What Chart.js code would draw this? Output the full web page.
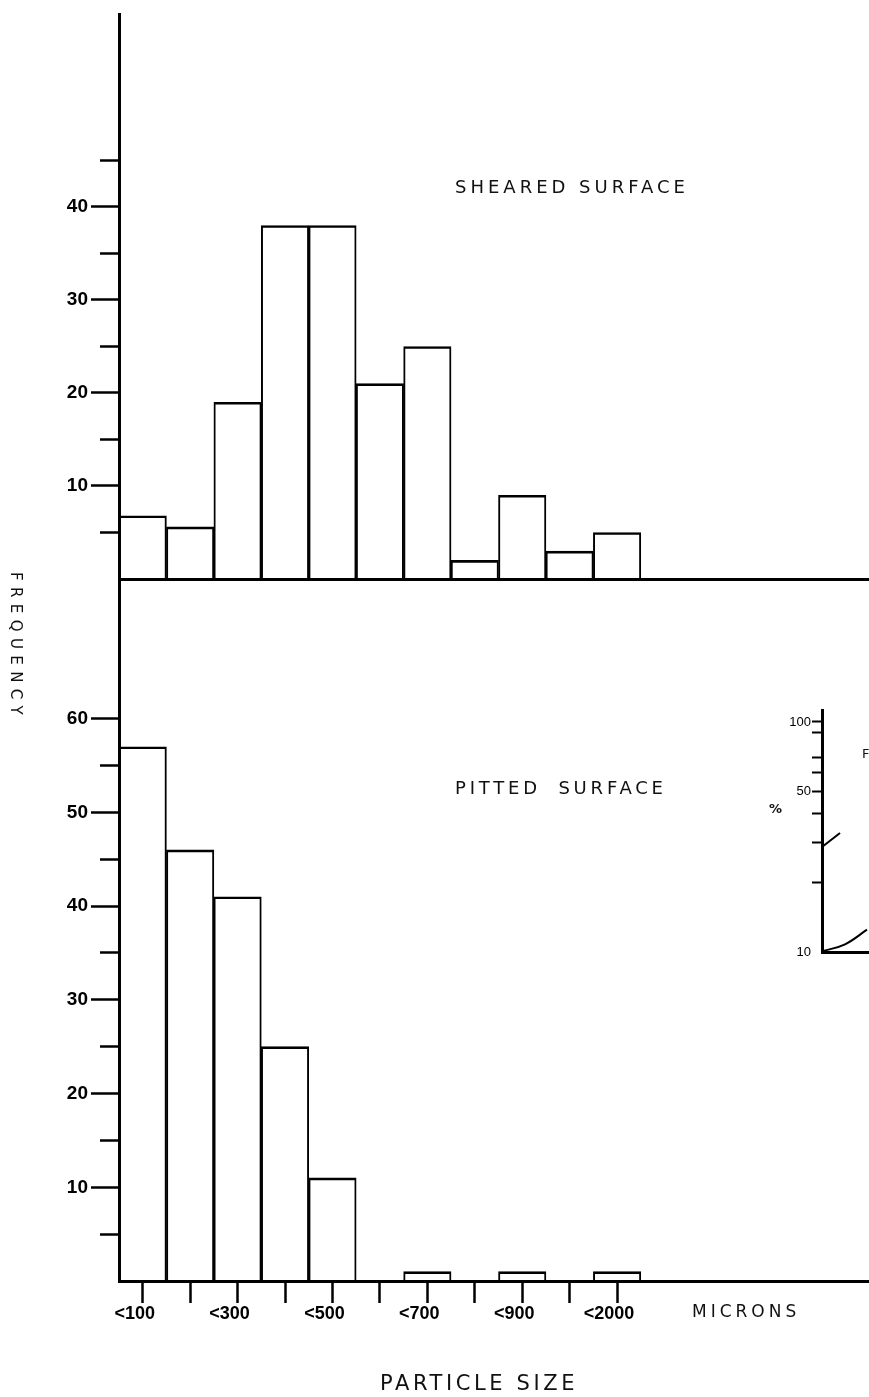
<!DOCTYPE html>
<html>
<head>
<meta charset="utf-8">
<script src="https://cdn.jsdelivr.net/npm/chart.js@4.4.1/dist/chart.umd.min.js"></script>
<style>
html,body{margin:0;padding:0;background:#fff;}
body{width:869px;height:1397px;overflow:hidden;position:relative;}
canvas{position:absolute;}
.lbl{position:absolute;font-family:"DejaVu Sans",sans-serif;color:#111;white-space:nowrap;line-height:1;}
</style>
</head>
<body>
<canvas id="sheared" width="880" height="600" style="left:0px;top:0px"></canvas>
<canvas id="pitted" width="880" height="837" style="left:0px;top:560px"></canvas>
<canvas id="inset" width="300" height="290" style="left:700px;top:690px"></canvas>

<div class="lbl" style="left:455px;top:178px;font-size:18px;letter-spacing:4px">SHEARED SURFACE</div>
<div class="lbl" style="left:455px;top:779px;font-size:18px;letter-spacing:3.8px;word-spacing:8px">PITTED SURFACE</div>
<div class="lbl" style="left:692px;top:1303px;font-size:17px;letter-spacing:4px">MICRONS</div>
<div class="lbl" style="left:380px;top:1373px;font-size:21px;letter-spacing:3.6px">PARTICLE SIZE</div>
<div class="lbl" style="left:8px;top:572px;font-size:15px;letter-spacing:6.4px;writing-mode:vertical-rl">FREQUENCY</div>
<div class="lbl" style="left:769px;top:802px;font-size:13px;font-weight:bold">%</div>
<div class="lbl" style="left:862px;top:747px;font-size:13px">F</div>

<script>
// particle size bins (microns), only every other one is labelled
const binLabels = ['<100', '', '<300', '', '<500', '', '<700', '', '<900', '', '<2000', '', '', '', '', ''];
const shearedFreq = [6.8, 5.6, 19, 38, 38, 21, 25, 2, 9, 3, 5];
const pittedFreq = [57, 46, 41, 25, 11, null, 1, null, 1, null, 1];

const shearedMajor = [10, 20, 30, 40];
const shearedMinor = [5, 15, 25, 35, 45];
const pittedMajor = [10, 20, 30, 40, 50, 60];
const pittedMinor = [5, 15, 25, 35, 45, 55];

// small cumulative % inset (log scale), cut off at the right edge
const insetTicks = [10, 20, 30, 40, 50, 60, 70, 90, 100];
const insetLabels = [10, 50, 100];
const curveAX = [0, 9];
const curveAY = [28.6, 32.9];
const curveBX = [0.5, 11.5, 22.5];
const curveBY = [10.1, 10.8, 12.5];

Chart.defaults.font.family = '"Liberation Sans", Arial, sans-serif';
Chart.defaults.color = '#000';

const axisFont = {family: '"Liberation Sans", Arial, sans-serif', size: 19, weight: 'bold'};

function freqAxis(max, major, minor) {
  const all = major.concat(minor).sort((a, b) => a - b);
  return {
    min: 0,
    max: max,
    afterBuildTicks: axis => { axis.ticks = all.map(v => ({value: v})); },
    afterFit: axis => { axis.width = 119; },
    border: {color: '#000', width: 3},
    grid: {
      drawOnChartArea: false,
      tickLength: 28,
      tickWidth: 2.5,
      tickColor: '#000',
      // minor ticks: skip the outer 9px so they come out shorter
      tickBorderDash: c => (c.tick && major.includes(c.tick.value)) ? [] : [19, 9],
      tickBorderDashOffset: c => (c.tick && major.includes(c.tick.value)) ? 0 : 19
    },
    ticks: {
      padding: 3,
      font: axisFont,
      color: '#000',
      callback: v => major.includes(v) ? String(v) : ''
    }
  };
}

function barData(values) {
  return {
    labels: binLabels,
    datasets: [{
      data: values,
      backgroundColor: 'rgba(255,255,255,0)',
      borderColor: '#000',
      borderWidth: {top: 2, left: 1.3, right: 1.3, bottom: 0},
      barPercentage: 1,
      categoryPercentage: 1
    }]
  };
}

const common = {
  responsive: false,
  animation: false,
  devicePixelRatio: 1,
  plugins: {legend: {display: false}, tooltip: {enabled: false}}
};

new Chart(document.getElementById('sheared'), {
  type: 'bar',
  data: barData(shearedFreq),
  options: Object.assign({}, common, {
    layout: {padding: {top: 8, right: 2, left: 0, bottom: 0}},
    scales: {
      x: {
        offset: true,
        afterFit: a => { a.height = 21; },
        border: {color: '#000', width: 3},
        grid: {drawOnChartArea: false, drawTicks: false},
        ticks: {display: false}
      },
      y: freqAxis(60.7, shearedMajor, shearedMinor)
    }
  })
});

new Chart(document.getElementById('pitted'), {
  type: 'bar',
  data: barData(pittedFreq),
  options: Object.assign({}, common, {
    layout: {padding: {top: 19, right: 2, left: 0, bottom: 0}},
    scales: {
      x: {
        offset: true,
        afterFit: a => { a.height = 116; },
        border: {color: '#000', width: 3},
        grid: {
          offset: false,
          drawOnChartArea: false,
          tickLength: 22,
          tickWidth: 2.5,
          tickColor: c => c.index <= 10 ? '#000' : 'rgba(0,0,0,0)'
        },
        ticks: {
          autoSkip: false,
          maxRotation: 0,
          padding: 0,
          labelOffset: -8,
          color: '#000',
          font: {family: '"Liberation Sans", Arial, sans-serif', size: 18, weight: 'bold'}
        }
      },
      y: freqAxis(74.9, pittedMajor, pittedMinor)
    }
  })
});

const pts = (xs, ys) => xs.map((x, i) => ({x: x, y: ys[i]}));

new Chart(document.getElementById('inset'), {
  type: 'scatter',
  data: {
    datasets: [
      {data: pts(curveAX, curveAY), showLine: true, borderColor: '#000', borderWidth: 2, pointRadius: 0},
      {data: pts(curveBX, curveBY), showLine: true, borderColor: '#000', borderWidth: 2, pointRadius: 0, tension: 0.4}
    ]
  },
  options: Object.assign({}, common, {
    layout: {padding: {top: 20, right: 0, left: 0, bottom: 0}},
    scales: {
      x: {
        type: 'linear',
        min: 0,
        max: 89,
        afterFit: a => { a.height = 28; },
        border: {color: '#000', width: 3},
        grid: {drawOnChartArea: false, drawTicks: false},
        ticks: {display: false}
      },
      y: {
        type: 'logarithmic',
        min: 10,
        max: 112.7,
        afterBuildTicks: axis => { axis.ticks = insetTicks.map(v => ({value: v})); },
        afterFit: axis => { axis.width = 122; },
        border: {color: '#000', width: 3},
        grid: {
          drawOnChartArea: false,
          tickLength: 10,
          tickWidth: 2,
          tickColor: c => (c.tick && c.tick.value === 10) ? 'rgba(0,0,0,0)' : '#000'
        },
        ticks: {
          padding: 1,
          color: '#000',
          font: {family: '"Liberation Sans", Arial, sans-serif', size: 13},
          callback: v => insetLabels.includes(v) ? String(v) : ''
        }
      }
    }
  })
});
</script>
</body>
</html>
